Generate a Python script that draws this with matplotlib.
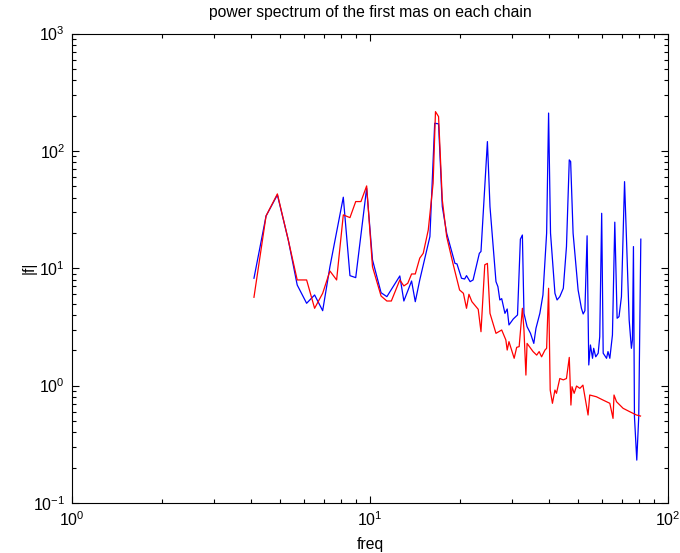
import matplotlib
matplotlib.use("Agg")
import matplotlib.pyplot as plt
from matplotlib.ticker import LogLocator, NullFormatter

plt.rcParams['font.family'] = ['Liberation Sans', 'DejaVu Sans']
plt.rcParams['mathtext.fontset'] = 'custom'
plt.rcParams['mathtext.rm'] = 'Liberation Sans'
plt.rcParams['mathtext.it'] = 'Liberation Sans:italic'

# chain 1 (blue)
freq_blue = [4.08, 4.48, 4.89, 5.32, 5.70, 6.13, 6.52, 6.94, 7.34, 8.14, 8.57, 8.96,
             9.75, 10.2, 10.9, 11.4, 12.6, 13.0, 13.8, 14.2, 14.7, 15.9, 16.5, 17.0,
             17.5, 18.1, 19.3, 19.6, 20.3, 20.8, 21.1, 21.7, 22.2, 23.3, 23.6, 24.8,
             25.3, 26.5, 26.9, 27.3, 27.7, 28.4, 28.9, 29.3, 30.3, 31.3, 32.0, 32.5,
             32.9, 33.7, 34.6, 35.5, 36.1, 37.2, 38.1, 39.2, 39.8, 40.4, 41.8, 42.5,
             43.4, 44.6, 45.7, 46.7, 47.2, 48.1, 50.0, 51.3, 52.0, 52.7, 53.6, 54.3,
             55.0, 55.9, 56.4, 57.3, 58.4, 59.1, 60.0, 60.7, 62.3, 63.0, 63.9, 65.2,
             66.4, 67.6, 68.6, 69.9, 71.6, 72.7, 74.2, 75.5, 76.1, 76.7, 77.3, 78.7,
             79.9, 81.2]
amp_blue = [8.22, 27.9, 42.2, 17.4, 7.20, 5.03, 5.92, 4.35, 10.3, 40.3, 8.65, 8.32,
            48.1, 11.8, 6.19, 5.73, 8.60, 5.26, 7.79, 5.19, 7.95, 18.6, 172, 170,
            33.5, 19.9, 11.0, 10.9, 8.22, 8.10, 8.65, 7.69, 7.95, 13.4, 13.9, 120,
            33.5, 7.69, 6.97, 5.37, 5.51, 4.13, 4.50, 3.29, 3.70, 4.00, 17.7, 19.2,
            4.13, 3.18, 2.79, 2.29, 3.08, 4.13, 5.92, 19.9, 210, 19.9, 6.12, 5.37,
            5.73, 6.75, 15.3, 83.8, 81.1, 19.9, 6.53, 4.56, 4.08, 4.35, 18.9, 1.50,
            2.22, 1.71, 2.08, 1.76, 1.89, 2.61, 29.4, 1.89, 1.71, 1.95, 1.71, 2.70,
            24.7, 3.75, 3.87, 5.73, 54.7, 17.4, 3.62, 2.08, 2.45, 15.3, 0.543, 0.232,
            0.543, 17.7]

# chain 2 (red)
freq_red = [4.08, 4.48, 4.89, 5.32, 5.70, 6.13, 6.52, 6.94, 7.34, 7.73, 8.14, 8.57,
            8.96, 9.33, 9.75, 10.2, 10.9, 11.4, 11.8, 12.6, 13.0, 13.4, 13.8, 14.2,
            14.7, 15.1, 15.7, 16.3, 16.6, 17.0, 17.5, 18.1, 19.0, 20.0, 20.6, 21.1,
            21.5, 22.0, 23.1, 23.6, 24.3, 24.8, 25.3, 26.5, 27.7, 28.6, 28.9, 29.3,
            29.9, 30.5, 31.1, 31.7, 32.5, 32.9, 33.4, 33.7, 35.3, 36.3, 37.0, 37.7,
            38.7, 39.2, 39.8, 40.3, 41.0, 41.8, 42.3, 43.4, 44.6, 45.7, 46.7, 47.3,
            47.7, 48.5, 49.4, 50.7, 51.9, 54.0, 54.7, 57.6, 60.6, 63.9, 65.5, 66.0,
            67.3, 70.8, 74.6, 78.5, 81.0]
amp_red = [5.66, 27.9, 43.0, 17.4, 7.95, 7.95, 4.56, 6.12, 9.48, 7.95, 28.5, 27.0,
           37.0, 37.0, 50.3, 10.3, 5.80, 5.26, 5.26, 7.95, 7.07, 7.45, 8.94, 8.94,
           12.2, 13.4, 21.2, 53.0, 216, 196, 38.2, 18.6, 11.0, 6.53, 6.12, 4.56,
           6.00, 5.19, 4.47, 2.88, 10.7, 11.0, 4.13, 2.79, 2.98, 2.45, 2.01, 2.37,
           2.01, 1.71, 2.12, 2.15, 4.56, 2.98, 1.23, 2.29, 1.95, 1.82, 1.95, 1.76,
           2.01, 2.08, 6.75, 0.917, 0.707, 0.917, 0.860, 1.15, 1.12, 1.15, 1.74, 0.683,
           0.979, 0.860, 0.992, 0.948, 1.01, 0.562, 0.832, 0.804, 0.754, 0.707, 0.526, 0.832,
           0.729, 0.641, 0.599, 0.562, 0.551]

fig = plt.figure(figsize=(6.8, 5.53), dpi=100)
ax = fig.add_axes([0.106, 0.0904, 0.876, 0.849])
ax.plot(freq_blue, amp_blue, color='#0000FF', lw=0.9)
ax.plot(freq_red, amp_red, color='#FF0000', lw=0.9)
ax.set_xscale('log')
ax.set_yscale('log')
ax.set_xlim(1, 100)
ax.set_ylim(0.1, 1000)

ax.xaxis.set_major_locator(LogLocator(base=10, numticks=10))
ax.yaxis.set_major_locator(LogLocator(base=10, numticks=10))
ax.xaxis.set_minor_locator(LogLocator(base=10, subs=range(2, 10), numticks=20))
ax.yaxis.set_minor_locator(LogLocator(base=10, subs=range(2, 10), numticks=20))
ax.xaxis.set_minor_formatter(NullFormatter())
ax.yaxis.set_minor_formatter(NullFormatter())

ax.tick_params(which='both', direction='in', top=True, right=True, labelsize=11.5,
               width=0.8, colors='black')
ax.tick_params(which='major', length=5, pad=5)
ax.tick_params(which='minor', length=3)
for s in ax.spines.values():
    s.set_linewidth(0.8)

ax.set_title('power spectrum of the first mas on each chain', fontsize=11.3, pad=12)
ax.set_xlabel('freq', fontsize=11.3, labelpad=6)
ax.set_ylabel('|f|', fontsize=11.3, labelpad=-3)

fig.savefig('out.png', dpi=100)
